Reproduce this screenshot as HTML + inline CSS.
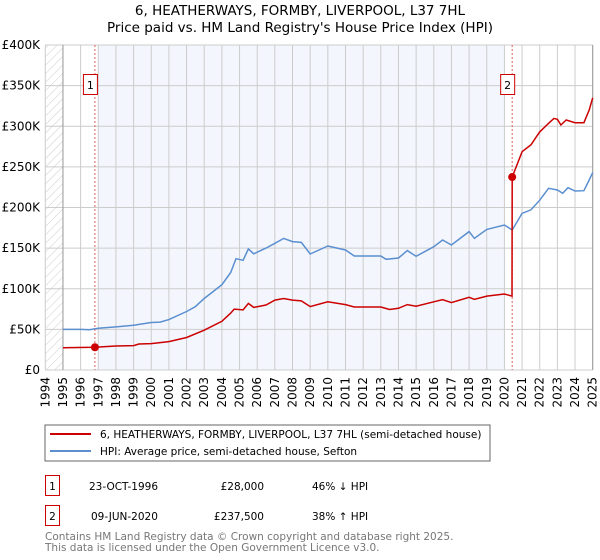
<!DOCTYPE html>
<html><head><meta charset="utf-8"><style>
body{margin:0;width:600px;height:560px;background:#fff;font-family:"DejaVu Sans","Liberation Sans",sans-serif;overflow:hidden}
svg{position:absolute;left:0;top:0}
</style></head><body>
<svg id="c" width="600" height="560" xmlns="http://www.w3.org/2000/svg">
<defs><pattern id="hatch" width="6" height="6" patternUnits="userSpaceOnUse" patternTransform="rotate(45)"><line x1="0" y1="0" x2="0" y2="6" stroke="#ccc" stroke-width="1"/></pattern></defs>
<text x="300" y="15" text-anchor="middle" font-size="13.5">6, HEATHERWAYS, FORMBY, LIVERPOOL, L37 7HL</text>
<text x="300" y="32" text-anchor="middle" font-size="13.5">Price paid vs. HM Land Registry's House Price Index (HPI)</text>
<g id="plot"></g>
<rect x="45" y="425" width="445" height="36" fill="#fff" stroke="#666"/>
<line x1="50" y1="434" x2="91" y2="434" stroke="#cc0000" stroke-width="2"/>
<text x="100" y="438" font-size="10.5">6, HEATHERWAYS, FORMBY, LIVERPOOL, L37 7HL (semi-detached house)</text>
<line x1="50" y1="451" x2="91" y2="451" stroke="#5b8fd0" stroke-width="2"/>
<text x="100" y="455" font-size="10.5">HPI: Average price, semi-detached house, Sefton</text>
<g font-size="10.5">
<rect x="45.5" y="475.5" width="14" height="20" fill="#fff" stroke="#cc0000"/>
<text x="52.5" y="490" text-anchor="middle">1</text>
<text x="89" y="490">23-OCT-1996</text>
<text x="264" y="490" text-anchor="end">£28,000</text>
<text x="312" y="490">46% ↓ HPI</text>
<rect x="45.5" y="505.5" width="14" height="20" fill="#fff" stroke="#cc0000"/>
<text x="52.5" y="520" text-anchor="middle">2</text>
<text x="91" y="520">09-JUN-2020</text>
<text x="264" y="520" text-anchor="end">£237,500</text>
<text x="312" y="520">38% ↑ HPI</text>
</g>
<text x="45" y="540" font-size="10.5" fill="#777">Contains HM Land Registry data © Crown copyright and database right 2025.</text>
<text x="45" y="551" font-size="10.5" fill="#777">This data is licensed under the Open Government Licence v3.0.</text>
</svg>
<script>
const hpiYears=[1995,1996,1996.5,1997,1998,1999,2000,2000.5,2001,2002,2002.5,2003,2004,2004.5,2004.8,2005.2,2005.5,2005.8,2006.5,2007,2007.5,2008,2008.5,2009,2010,2011,2011.5,2012,2013,2013.3,2014,2014.5,2015,2016,2016.5,2017,2018,2018.3,2019,2020,2020.44,2021,2021.5,2022,2022.5,2023,2023.3,2023.6,2024,2024.5,2024.8,2025];
const hpiValues=[50,50,49.5,51.5,53,55,58.5,59,62,72,78,88,105,120,137,135,149,143,150,156,162,158,157,142.8,152.6,147.7,140.3,140.3,140.3,136.2,137.8,146.9,140,151.8,160,153.8,170.3,162,173.1,178.5,172.3,192.8,197,209,223.6,221.5,217.5,224.4,220.3,220.7,233.8,242.9];
const priceYears=[1995,1996.81,1998,1999,1999.3,2000,2001,2002,2003,2004,2004.5,2004.7,2005.2,2005.5,2005.8,2006.5,2007,2007.5,2008,2008.5,2009,2010,2011,2011.5,2012,2013,2013.5,2014,2014.5,2015,2016,2016.5,2017,2018,2018.3,2019,2020,2020.43,2020.44,2021,2021.5,2022,2022.5,2022.8,2023,2023.2,2023.5,2024,2024.5,2024.8,2025];
const priceValues=[27.5,28,29.5,30,32,32.5,35,40,49,60,70,75,74,82,77,80,86,88,86,85,78,84,80.5,77.5,77.5,77.5,74.5,76,80.5,78.5,84,86.5,83,89.5,87,91,93.5,91,237.5,268.7,277,293,303.6,309.7,308.5,301.5,307.7,304.4,304.4,320,335];
const saleYears=[1996.81,2020.44];
const saleValues=[28,237.5];
const saleLabels=["1","2"];
const yTicks=[0,50,100,150,200,250,300,350,400];
const yTickLabels=["£0","£50K","£100K","£150K","£200K","£250K","£300K","£350K","£400K"];
const xTicks=[1994,1995,1996,1997,1998,1999,2000,2001,2002,2003,2004,2005,2006,2007,2008,2009,2010,2011,2012,2013,2014,2015,2016,2017,2018,2019,2020,2021,2022,2023,2024,2025];

const X0=45.3,X1=592.7,Y0=370,Y1=45;
const x=v=>X0+(v-1994)/(2025-1994)*(X1-X0);
const y=v=>Y0-v/400*(Y0-Y1);
const NS="http://www.w3.org/2000/svg";
const g=document.getElementById('plot');
function mk(t,a){const e=document.createElementNS(NS,t);for(const k in a)e.setAttribute(k,a[k]);g.appendChild(e);return e;}

let e=mk('rect',{x:X0,y:Y1,width:X1-X0,height:Y0-Y1,fill:'#fff'});


e=mk('rect',{x:x(1994),y:Y1,width:x(1995)-x(1994),height:Y0-Y1,fill:'url(#hatch)'});


e=mk('rect',{x:x(saleYears[0])+3.5,y:Y1,width:x(saleYears[1])-x(saleYears[0])-11,height:Y0-Y1,fill:'#f3f6fd'});


xTicks.forEach(t=>{
  const l=mk('line',{x1:x(t),x2:x(t),y1:Y1,y2:Y0,stroke:'#ccc','stroke-width':1});
  
  
  const tx=mk('text',{x:0,y:0,'font-size':12,'text-anchor':'end',transform:`translate(${x(t)+4},${Y0+7}) rotate(-90)`});
  tx.textContent=t;
  
  
});
yTicks.forEach((t,i)=>{
  const l=mk('line',{x1:X0,x2:X1,y1:y(t),y2:y(t),stroke:'#ccc','stroke-width':1});
  
  
  const tx=mk('text',{x:40,y:y(t)+4,'font-size':12,'text-anchor':'end'});
  tx.textContent=yTickLabels[i];
  
  
});
e=mk('line',{x1:x(1995),x2:x(1995),y1:Y1,y2:Y0,stroke:'#999'});


e=mk('line',{x1:X1,x2:X1,y1:Y1,y2:Y0,stroke:'#999'});


saleYears.forEach((s,i)=>{
  const l=mk('line',{x1:x(s),x2:x(s),y1:Y1,y2:Y0,stroke:'#e06060','stroke-dasharray':'2,2','stroke-width':1});
  
  
  const r=mk('rect',{x:x(s)-11.5,y:74.5,width:14,height:20,fill:'#fff',stroke:'#cc0000'});
  
  
  const t=mk('text',{x:x(s)-4.5,y:89,'font-size':11,'text-anchor':'middle'});
  t.textContent=saleLabels[i];
  
  
});
const pts=(xs,vs)=>xs.map((v,i)=>x(v).toFixed(1)+','+y(vs[i]).toFixed(1)).join(' ');
e=mk('polyline',{points:pts(hpiYears,hpiValues),fill:'none',stroke:'#5b8fd0','stroke-width':1.5});


e=mk('polyline',{points:pts(priceYears,priceValues),fill:'none',stroke:'#cc0000','stroke-width':1.5});


saleYears.forEach((s,i)=>{
  const c=mk('circle',{cx:x(s),cy:y(saleValues[i]),r:4,fill:'#cc0000'});
  
  
});
</script>
</body></html>
